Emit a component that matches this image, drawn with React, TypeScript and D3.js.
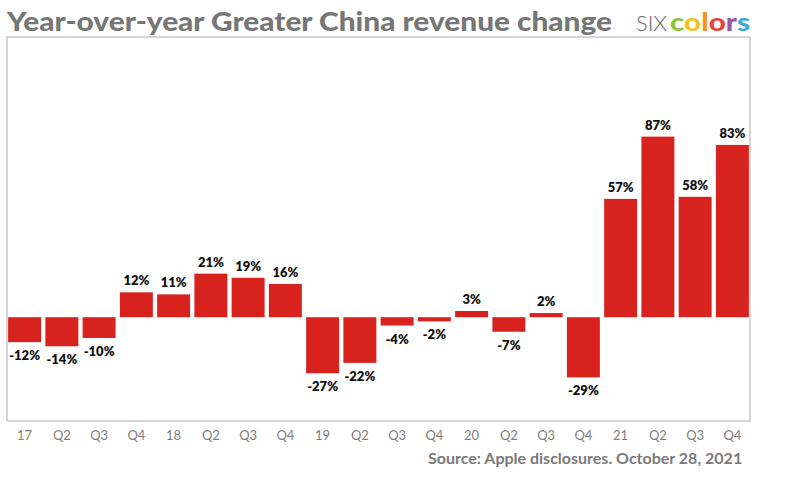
import React from "react";
import * as d3 from "d3";

const categories = ["17", "Q2", "Q3", "Q4", "18", "Q2", "Q3", "Q4", "19", "Q2", "Q3", "Q4", "20", "Q2", "Q3", "Q4", "21", "Q2", "Q3", "Q4"];
const values = [-12, -14, -10, 12, 11, 21, 19, 16, -27, -22, -4, -2, 3, -7, 2, -29, 57, 87, 58, 83];
const yDomain = [-50, 135];
const titleText = "Year-over-year Greater China revenue change";
const sourceText = "Source: Apple disclosures. October 28, 2021";
const logoPrefix = "SIX";
const logoLetters = ["c", "o", "l", "o", "r", "s"];
const logoColors = ["#8cc63f", "#f6c21b", "#f39321", "#e8433b", "#9a58a5", "#3ea8dc"];

export default function App() {
  const W = 800, H = 491;
  const frame = { left: 7, right: 750, top: 37, bottom: 421 };
  const keys = categories.map((_, i) => String(i));
  const x = d3.scaleBand().domain(keys).range([6, 751]).paddingInner(0.115).paddingOuter(0.057);
  const y = d3.scaleLinear().domain(yDomain).range([frame.bottom, frame.top]);
  const font = "Lato, 'Open Sans', sans-serif";
  return (
    <svg width={W} height={H} style={{ position: "absolute", left: 0, top: 0, background: "#fff" }}>
      <rect width={W} height={H} fill="#fff" />
      <text x={7} y={31} fontFamily={font} fontWeight={900} fontSize={26} fill="#767676" textLength={605} lengthAdjust="spacingAndGlyphs">{titleText}</text>
      <text x={636} y={31} fontFamily={font} fontSize={22} fontWeight={300} fill="#666" textLength={31} lengthAdjust="spacing">{logoPrefix}</text>
      <text x={670} y={31} fontFamily={font} fontSize={25} fontWeight={900} textLength={80} lengthAdjust="spacingAndGlyphs">
        {logoLetters.map((l, i) => (
          <tspan key={i} fill={logoColors[i]}>{l}</tspan>
        ))}
      </text>
      <path d={`M${frame.left},${frame.bottom}V${frame.top}H${frame.right}V${frame.bottom}H${frame.left}`} fill="none" stroke="#c8c8c8" strokeWidth={1.5} />
      {values.map((v, i) => {
        const bx = x(String(i))!;
        const y0 = y(0), y1 = y(v);
        return (
          <g key={i}>
            <rect x={bx} y={Math.min(y0, y1)} width={x.bandwidth()} height={Math.abs(y1 - y0)} fill="#d8221d" />
            <text x={bx + x.bandwidth() / 2} y={v >= 0 ? y1 - 7 : y1 + 18} textAnchor="middle" fontFamily={font} fontWeight={800} fontSize={13} fill="#111">{`${v}%`}</text>
          </g>
        );
      })}
      {categories.map((c, i) => (
        <text key={i} x={x(String(i))! + x.bandwidth() / 2} y={440} textAnchor="middle" fontFamily={font} fontSize={13} fill="#808080">{c}</text>
      ))}
      <text x={428} y={464} fontFamily={font} fontWeight={700} fontSize={16} fill="#7a7a7a">{sourceText}</text>
    </svg>
  );
}
